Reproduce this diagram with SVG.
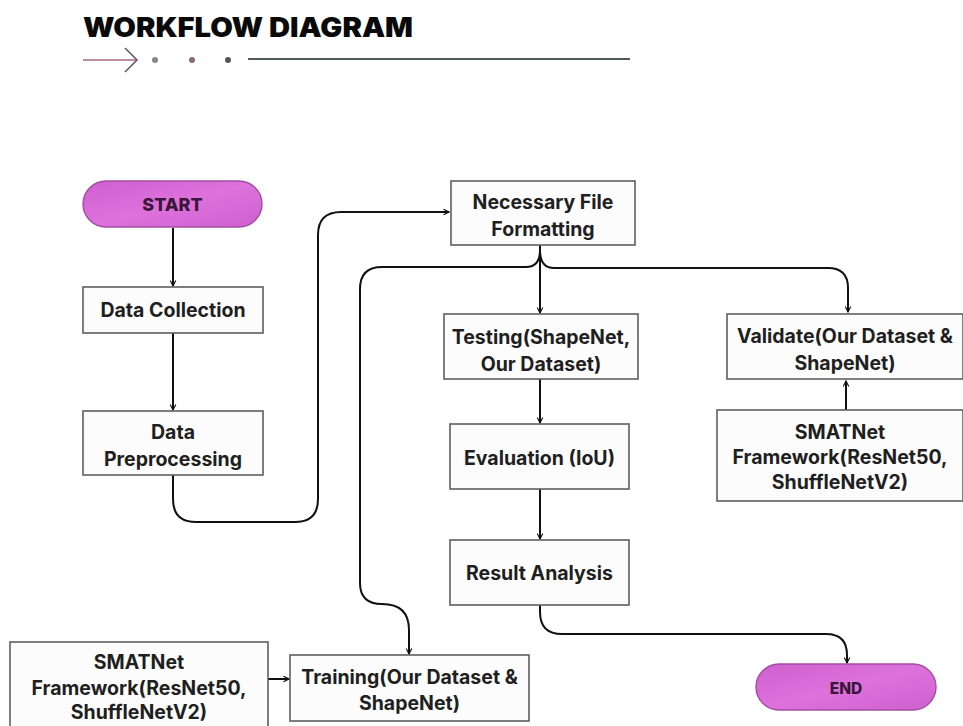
<svg xmlns="http://www.w3.org/2000/svg" width="963" height="726" viewBox="0 0 963 726">
  <defs>
    <marker id="arrow" viewBox="0 0 10 10" refX="9" refY="5" markerWidth="7" markerHeight="7" orient="auto" markerUnits="userSpaceOnUse">
      <path d="M1,1 L9,5 L1,9" fill="none" stroke="#111" stroke-width="1.6" stroke-linejoin="miter"/>
    </marker>
    <linearGradient id="pill" x1="0" y1="0" x2="1" y2="1">
      <stop offset="0" stop-color="#cf5fcf"/>
      <stop offset="0.5" stop-color="#dd72dc"/>
      <stop offset="1" stop-color="#cf60cf"/>
    </linearGradient>
    <style>
      .box { fill: #fcfcfc; stroke: #5e5e5e; stroke-width: 1.6; }
      .pill { fill: url(#pill); stroke: #a24ea3; stroke-width: 1.4; }
      .lbl { font-family: Inter, "Noto Sans", "Liberation Sans", sans-serif; font-weight: 700; font-size: 19.5px; fill: #1f1f1f; text-anchor: middle; }
      .plbl { font-family: Inter, "Noto Sans", "Liberation Sans", sans-serif; font-weight: 800; fill: #3a1638; text-anchor: middle; }
      .conn path { fill: none; stroke: #111; stroke-width: 2; }
    </style>
  </defs>

  <rect width="963" height="726" fill="#ffffff"/>

  <!-- heading -->
  <g id="heading">
    <text x="83" y="37" font-family="Inter, 'Liberation Sans', sans-serif" font-weight="900" font-size="26.5" fill="#0a0a0a" textLength="330" lengthAdjust="spacingAndGlyphs">WORKFLOW DIAGRAM</text>
    <line x1="83" y1="60" x2="137" y2="60" stroke="#a86a84" stroke-width="1.6"/>
    <polyline points="125,48 137,60 125,72" fill="none" stroke="#6b5a62" stroke-width="1.6"/>
    <circle cx="155" cy="60" r="3" fill="#8a8588"/>
    <circle cx="192" cy="60" r="3" fill="#8a6a78"/>
    <circle cx="228" cy="60" r="3" fill="#555"/>
    <line x1="248" y1="59" x2="630" y2="59" stroke="#4d5a56" stroke-width="1.8"/>
  </g>

  <!-- connectors -->
  <g id="connectors" class="conn">
    <path d="M173,228 V286" marker-end="url(#arrow)"/>
    <path d="M173,333 V410" marker-end="url(#arrow)"/>
    <path d="M173,475 V499 Q173,522 196,522 H295 Q318,522 318,499 V235 Q318,212 341,212 H449" marker-end="url(#arrow)"/>
    <path d="M540,245 V313" marker-end="url(#arrow)"/>
    <path d="M540,250 Q540,267 526,267 H382 Q360,267 360,289 V583 Q360,604 382,604 Q409,604 409,630 V654" marker-end="url(#arrow)"/>
    <path d="M540,250 Q540,268 554,268 H828 Q848,268 848,288 V312" marker-end="url(#arrow)"/>
    <path d="M846,410 V381" marker-end="url(#arrow)"/>
    <path d="M540,379 V423" marker-end="url(#arrow)"/>
    <path d="M540,489 V539" marker-end="url(#arrow)"/>
    <path d="M540,605 V612 Q540,634 562,634 H826 Q847,634 847,655 V663" marker-end="url(#arrow)"/>
    <path d="M268,679 H289" marker-end="url(#arrow)"/>
  </g>

  <!-- nodes -->
  <g id="start">
    <rect class="pill" x="83" y="181" width="179" height="46" rx="23"/>
    <text class="plbl" x="172.5" y="210.5" font-size="18">START</text>
  </g>

  <g id="data-collection">
    <rect class="box" x="83" y="287" width="180" height="46"/>
    <text class="lbl" x="173" y="317">Data Collection</text>
  </g>

  <g id="data-preprocessing">
    <rect class="box" x="83" y="411" width="180" height="64"/>
    <text class="lbl" x="173" y="439">Data</text>
    <text class="lbl" x="173" y="466">Preprocessing</text>
  </g>

  <g id="file-formatting">
    <rect class="box" x="451" y="181" width="184" height="64"/>
    <text class="lbl" x="543" y="209">Necessary File</text>
    <text class="lbl" x="543" y="236">Formatting</text>
  </g>

  <g id="testing">
    <rect class="box" x="444" y="314" width="194" height="65"/>
    <text class="lbl" x="541" y="344">Testing(ShapeNet,</text>
    <text class="lbl" x="541" y="371">Our Dataset)</text>
  </g>

  <g id="evaluation">
    <rect class="box" x="450" y="424" width="179" height="65"/>
    <text class="lbl" x="539.5" y="465">Evaluation (IoU)</text>
  </g>

  <g id="result-analysis">
    <rect class="box" x="450" y="540" width="179" height="65"/>
    <text class="lbl" x="539.5" y="580">Result Analysis</text>
  </g>

  <g id="validate">
    <rect class="box" x="727" y="314" width="236" height="65"/>
    <text class="lbl" x="845" y="343">Validate(Our Dataset &amp;</text>
    <text class="lbl" x="845" y="370">ShapeNet)</text>
  </g>

  <g id="smatnet-validate">
    <rect class="box" x="717" y="410" width="246" height="91"/>
    <text class="lbl" x="840" y="439">SMATNet</text>
    <text class="lbl" x="840" y="464">Framework(ResNet50,</text>
    <text class="lbl" x="840" y="489">ShuffleNetV2)</text>
  </g>

  <g id="smatnet-training">
    <rect class="box" x="10" y="642" width="258" height="95"/>
    <text class="lbl" x="139" y="669">SMATNet</text>
    <text class="lbl" x="139" y="695">Framework(ResNet50,</text>
    <text class="lbl" x="139" y="719">ShuffleNetV2)</text>
  </g>

  <g id="training">
    <rect class="box" x="290" y="655" width="239" height="66"/>
    <text class="lbl" x="409.5" y="684">Training(Our Dataset &amp;</text>
    <text class="lbl" x="409.5" y="710">ShapeNet)</text>
  </g>

  <g id="end">
    <rect class="pill" x="756" y="664" width="180" height="46" rx="23"/>
    <text class="plbl" x="846" y="693.5" font-size="15.5">END</text>
  </g>
</svg>
